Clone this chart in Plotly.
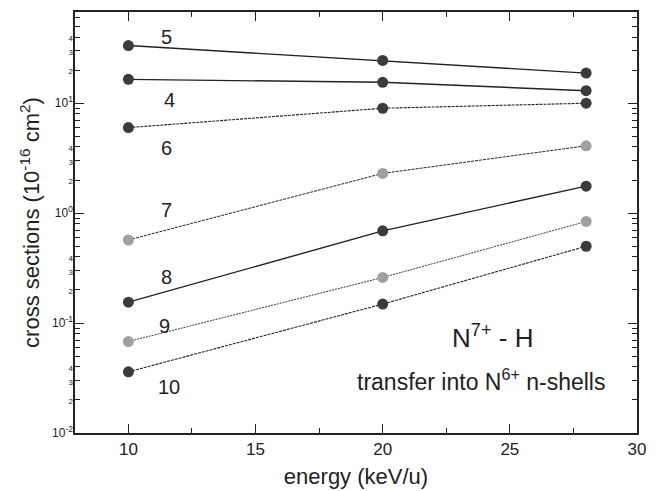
import math
import plotly.graph_objects as go

energy = [10, 20, 28]
shells = ["5", "4", "6", "7", "8", "9", "10"]
sigma_5 = [33.5, 24.5, 18.8]
sigma_4 = [16.5, 15.5, 13.0]
sigma_6 = [6.0, 9.0, 10.0]
sigma_7 = [0.57, 2.3, 4.1]
sigma_8 = [0.155, 0.69, 1.76]
sigma_9 = [0.068, 0.26, 0.84]
sigma_10 = [0.036, 0.149, 0.50]

label_x = [11.5, 11.6, 11.5, 11.5, 11.5, 11.4, 11.6]
label_y = [40, 10.6, 3.9, 1.06, 0.26, 0.095, 0.026]

decades = [0.01, 0.1, 1, 10]
decade_text = ["10<sup>-2</sup>", "10<sup>-1</sup>", "10<sup>0</sup>", "10<sup>1</sup>"]
small_mult = [2, 3, 4]

label_vals = []
label_text = []
for d, dt in zip(decades, decade_text):
    label_vals.append(d)
    label_text.append(dt)
    for m in small_mult:
        label_vals.append(m * d)
        label_text.append('<span style="font-size:8px">%d</span>' % m)
minor_vals = [m * d for d in decades for m in range(2, 10)]

dark = "#3b3b3b"
light = "#a0a0a0"
linec = "#222222"

series = [
    (sigma_5, dark, "solid", 1.4),
    (sigma_4, dark, "solid", 1.4),
    (sigma_6, dark, "3px,1px", 1.1),
    (sigma_7, light, "3px,1px", 1.0),
    (sigma_8, dark, "solid", 1.4),
    (sigma_9, light, "2px,1px", 0.9),
    (sigma_10, dark, "3px,1px", 1.1),
]

fig = go.Figure()
for name, (vals, mc, dash, w) in zip(shells, series):
    fig.add_trace(go.Scatter(
        x=energy, y=vals, mode="lines+markers", name=name,
        line=dict(color=linec, width=w, dash=dash),
        marker=dict(size=11, color=mc, line=dict(width=0)),
        showlegend=False,
    ))

font = "Liberation Sans, Arial, sans-serif"
for t, x, y in zip(shells, label_x, label_y):
    fig.add_annotation(x=x, y=math.log10(y), text=t, showarrow=False,
                       font=dict(size=20, family=font, color="#222"))

fig.add_annotation(x=24.3, y=-1.12, text="N<sup>7+</sup> - H", showarrow=False,
                   font=dict(size=26, family=font, color="#222"))
fig.add_annotation(x=23.85, y=-1.52, text="transfer into N<sup>6+</sup> n-shells", showarrow=False,
                   font=dict(size=23, family=font, color="#222"))

fig.update_layout(
    width=651, height=483,
    margin=dict(l=67, r=22, t=4, b=58),
    paper_bgcolor="white", plot_bgcolor="white",
    font=dict(family=font, color="#222"),
    xaxis=dict(
        range=[7.9, 30], tickvals=[10, 15, 20, 25, 30], automargin=False,
        ticks="inside", ticklen=9, tickwidth=1.3, tickcolor="#222",
        minor=dict(tickvals=[12.5, 17.5, 22.5, 27.5], ticks="inside", ticklen=5, tickcolor="#222"),
        showline=True, linecolor="#222", linewidth=1.5, mirror="ticks",
        showgrid=False, zeroline=False,
        tickfont=dict(size=17),
        title=dict(text="energy (keV/u)", font=dict(size=22), standoff=10),
    ),
    yaxis=dict(
        type="log", range=[-2, 1.83], automargin=False,
        tickvals=label_vals, ticktext=label_text,
        ticks="inside", ticklen=9, tickwidth=1.3, tickcolor="rgba(0,0,0,0)",
        minor=dict(tickvals=minor_vals, ticks="inside", ticklen=5, tickwidth=1, tickcolor="#222"),
        showline=True, linecolor="#222", linewidth=1.5, mirror="ticks",
        showgrid=False, zeroline=False,
        tickfont=dict(size=12), ticklabelstandoff=-2,
        title=dict(text="cross sections (10<sup>-16</sup> cm<sup>2</sup>)", font=dict(size=22), standoff=6),
    ),
    yaxis2=dict(
        type="log", range=[-2, 1.83], overlaying="y", side="left", anchor="x",
        automargin=False, showticklabels=False,
        tickvals=decades, ticks="inside", ticklen=9, tickwidth=1.3, tickcolor="#222",
        showline=True, linecolor="#222", linewidth=1.5, mirror="ticks",
        showgrid=False, zeroline=False,
    ),
)
fig.add_trace(go.Scatter(x=[None], y=[None], yaxis="y2", showlegend=False, hoverinfo="skip"))

fig.write_html("out.html")
